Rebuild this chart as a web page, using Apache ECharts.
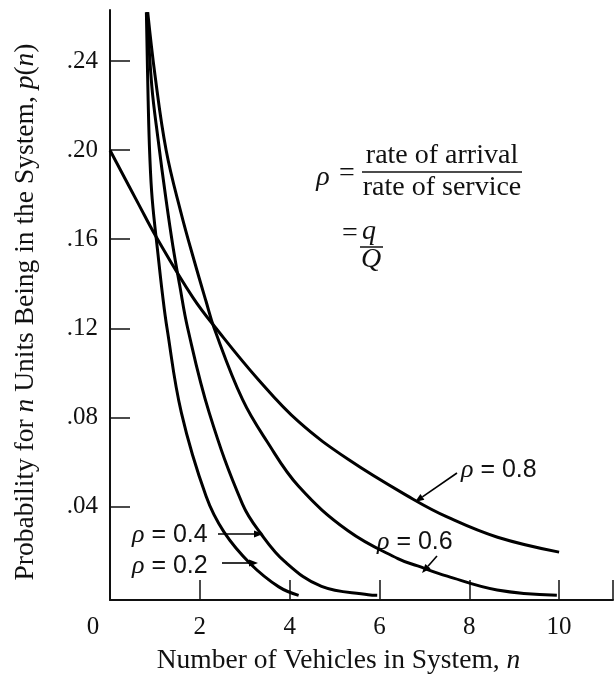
<!DOCTYPE html>
<html><head><meta charset="utf-8">
<script src="https://cdn.jsdelivr.net/npm/echarts@6/dist/echarts.min.js"></script>
<style>html,body{margin:0;padding:0;background:#fff}#c{width:616px;height:680px}</style>
</head><body><div id="c"></div>
<script>
// ---- data (n, p(n)) ----
const xTickValues = [0, 2, 4, 6, 8, 10];
const yTickValues = [0.04, 0.08, 0.12, 0.16, 0.20, 0.24];
const rho02 = [[0.81,0.262],[0.85,0.222],[0.885,0.198],[0.94,0.178],[1.07,0.153],[1.17,0.135],[1.27,0.120],[1.59,0.082],[2.14,0.0445],[2.54,0.0284],[3.13,0.0141],[3.76,0.0038],[4.2,0.0]];
const rho04 = [[0.83,0.262],[0.93,0.229],[1.07,0.205],[1.25,0.1775],[1.4,0.157],[1.55,0.1395],[1.73,0.120],[2.21,0.082],[2.95,0.041],[3.35,0.028],[3.9,0.015],[4.71,0.004],[5.75,0.0003],[5.95,0.0]];
const rho06 = [[0.84,0.262],[1.0,0.234],[1.25,0.200],[1.58,0.172],[1.88,0.150],[2.14,0.132],[2.32,0.120],[2.95,0.088],[3.5,0.069],[4.2,0.049],[5.3,0.029],[6.41,0.0165],[6.85,0.0132],[7.51,0.0086],[8.62,0.0024],[9.95,0.0]];
const rho08 = [[0,0.200],[0.63,0.176],[1.03,0.161],[1.84,0.134],[2.4,0.119],[3.3,0.097],[4.2,0.078],[5.31,0.061],[6.75,0.0432],[7.53,0.035],[8.63,0.0261],[10.0,0.0194]];
const seriesNames = ['ρ = 0.2', 'ρ = 0.4', 'ρ = 0.6', 'ρ = 0.8'];

const serif = '"Liberation Serif", "Times New Roman", serif';
const sans = '"Liberation Sans", Arial, sans-serif';
const chart = echarts.init(document.getElementById('c'));

function mkSeries(name, data) {
  return { name, type: 'line', data, smooth: 0.4, symbol: 'none',
    lineStyle: { color: '#000', width: 3 }, clip: true, silent: true, z: 3 };
}
function arrow(x1, y1, x2, y2) {
  const a = Math.atan2(y2 - y1, x2 - x1), L = 9, W = 3.5;
  const bx = x2 - L * Math.cos(a), by = y2 - L * Math.sin(a);
  const px = -Math.sin(a) * W, py = Math.cos(a) * W;
  return [
    { type: 'line', shape: { x1, y1, x2: bx, y2: by }, style: { stroke: '#000', lineWidth: 1.6 } },
    { type: 'polygon', shape: { points: [[x2, y2], [bx + px, by + py], [bx - px, by - py]] }, style: { fill: '#000' } }
  ];
}
function label(txt, x, y) {
  return { type: 'text', x, y, style: { text: '{i|ρ} = ' + txt, fontFamily: sans, fontSize: 25, fill: '#111',
    verticalAlign: 'middle', align: 'left',
    rich: { i: { fontFamily: serif, fontStyle: 'italic', fontSize: 26, fill: '#111' } } } };
}
function t(txt, x, y, opts) {
  return { type: 'text', x, y, style: Object.assign({ text: txt, fontFamily: serif, fontSize: 28, fill: '#111',
    align: 'center', verticalAlign: 'middle' }, opts || {}) };
}

const graphics = [].concat(
  [label('0.4', 132, 535), label('0.2', 132, 566), label('0.8', 461, 470), label('0.6', 377, 542)],
  arrow(218, 534, 263, 534), arrow(222, 563, 258, 563), arrow(457, 473, 415, 502), arrow(437, 556, 422, 573),
  [
    t('ρ', 323, 178, { fontStyle: 'italic' }),
    t('=', 347, 174),
    t('rate of arrival', 442, 156),
    { type: 'line', shape: { x1: 362, y1: 172, x2: 522, y2: 172 }, style: { stroke: '#111', lineWidth: 1.5 } },
    t('rate of service', 442, 188),
    t('=', 350, 234),
    t('q', 369, 232, { fontStyle: 'italic' }),
    { type: 'line', shape: { x1: 360, y1: 247, x2: 383, y2: 247 }, style: { stroke: '#111', lineWidth: 1.5 } },
    t('Q', 371, 260, { fontStyle: 'italic' })
  ]
);

chart.setOption({
  animation: false,
  backgroundColor: '#fff',
  grid: { left: 110, right: 0, top: 10, bottom: 77 },
  xAxis: {
    type: 'value', min: 0, max: 11.2, interval: 2,
    axisLine: { onZero: false, lineStyle: { color: '#111', width: 2 } },
    axisTick: { inside: true, length: 20, lineStyle: { color: '#111', width: 1.5 } },
    splitLine: { show: false },
    axisLabel: { margin: 15, color: '#111', fontFamily: serif, fontSize: 25,
      formatter: v => (xTickValues.indexOf(v) < 0 ? '' : (v === 0 ? '{z|0}' : String(v))),
      rich: { z: { padding: [0, 34, 0, 0], fontFamily: serif, fontSize: 25, color: '#111' } } },
    name: '{t|Number of Vehicles in System, }{i|n}', nameLocation: 'middle', nameGap: 47,
    nameTextStyle: { padding: [0, 46, 0, 0],
      rich: { t: { fontFamily: serif, fontSize: 27.5, color: '#111' }, i: { fontFamily: serif, fontStyle: 'italic', fontSize: 27.5, color: '#111' } } }
  },
  yAxis: {
    type: 'value', min: -0.0021, max: 0.263,
    axisLine: { show: true, onZero: false, lineStyle: { color: '#111', width: 2 } },
    axisTick: { show: true, inside: true, length: 20, customValues: yTickValues, lineStyle: { color: '#111', width: 1.5 } },
    splitLine: { show: false },
    axisLabel: { margin: 12, color: '#111', fontFamily: serif, fontSize: 25, customValues: yTickValues,
      formatter: v => v.toFixed(2).replace(/^0/, '') },
    name: '{t|Probability for }{i|n}{t| Units Being in the System, }{i|p}{t|(}{i|n}{t|)}',
    nameLocation: 'middle', nameRotate: 90, nameGap: 70,
    nameTextStyle: { padding: [0, 14, 0, 0], rich: { t: { fontFamily: serif, fontSize: 27.5, color: '#111' }, i: { fontFamily: serif, fontStyle: 'italic', fontSize: 27.5, color: '#111' } } }
  },
  series: [mkSeries(seriesNames[0], rho02), mkSeries(seriesNames[1], rho04), mkSeries(seriesNames[2], rho06), mkSeries(seriesNames[3], rho08)],
  graphic: graphics
});
</script></body></html>
